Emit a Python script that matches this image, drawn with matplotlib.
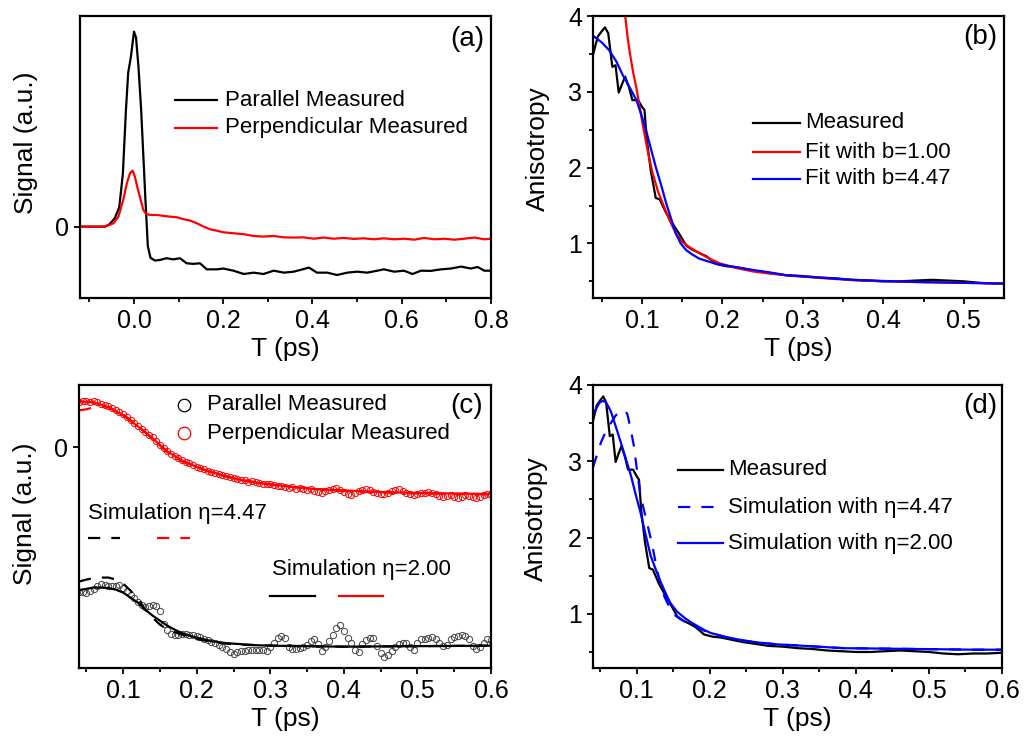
import numpy as np
import matplotlib
matplotlib.use("Agg")
import matplotlib.pyplot as plt
from matplotlib.lines import Line2D

plt.rcParams["font.family"] = ["Liberation Sans", "DejaVu Sans"]
plt.rcParams["axes.linewidth"] = 1.6

W, H = 1034, 743

# ---- (a) raw signals, normalised to parallel peak ----
t_par_a = [-0.121, -0.09, -0.065, -0.055, -0.043, -0.033, -0.025, -0.018, -0.013, -0.007, 0.0,
           0.0045, 0.01, 0.016, 0.021, 0.026, 0.031, 0.037, 0.047, 0.058, 0.073, 0.088, 0.103,
           0.118, 0.133, 0.148, 0.163, 0.186, 0.2, 0.223, 0.246, 0.268, 0.29, 0.313, 0.336,
           0.358, 0.373, 0.392, 0.41, 0.433, 0.455, 0.478, 0.5, 0.523, 0.545, 0.56, 0.583,
           0.605, 0.624, 0.643, 0.665, 0.688, 0.71, 0.733, 0.755, 0.77, 0.785, 0.8]
par_a = [0.0, 0.0, 0.0, 0.012, 0.043, 0.10, 0.27, 0.60, 0.79, 0.87, 1.0,
         0.97, 0.82, 0.60, 0.36, 0.12, -0.10, -0.16, -0.174, -0.171, -0.162, -0.168, -0.162,
         -0.188, -0.191, -0.188, -0.219, -0.219, -0.215, -0.226, -0.243, -0.236, -0.243, -0.226, -0.236,
         -0.231, -0.222, -0.21, -0.236, -0.236, -0.248, -0.236, -0.231, -0.236, -0.226, -0.219, -0.231,
         -0.226, -0.243, -0.226, -0.227, -0.219, -0.215, -0.205, -0.215, -0.207, -0.226, -0.226]

t_perp_a = [-0.121, -0.065, -0.046, -0.035, -0.024, -0.016, -0.009, -0.003, 0.002, 0.008, 0.015,
            0.021, 0.027, 0.036, 0.051, 0.066, 0.081, 0.096, 0.111, 0.126, 0.141, 0.156, 0.171,
            0.186, 0.2, 0.223, 0.246, 0.268, 0.29, 0.313, 0.336, 0.358, 0.38, 0.403, 0.425,
            0.448, 0.47, 0.493, 0.515, 0.538, 0.56, 0.583, 0.605, 0.628, 0.65, 0.673, 0.695,
            0.718, 0.74, 0.763, 0.785, 0.8]
perp_a = [0.0, 0.0, 0.017, 0.051, 0.137, 0.222, 0.274, 0.287, 0.256, 0.197, 0.137,
          0.085, 0.065, 0.06, 0.06, 0.055, 0.051, 0.048, 0.038, 0.031, 0.017, 0.0, -0.014,
          -0.021, -0.029, -0.034, -0.039, -0.048, -0.051, -0.048, -0.055, -0.056, -0.055, -0.062, -0.056,
          -0.062, -0.058, -0.063, -0.06, -0.065, -0.06, -0.065, -0.062, -0.067, -0.058, -0.065, -0.062,
          -0.067, -0.062, -0.056, -0.065, -0.062]

# ---- measured anisotropy (b, d) ----
t_aniso = [0.039, 0.045, 0.050, 0.054, 0.058, 0.063, 0.067, 0.071, 0.075, 0.079, 0.084, 0.088,
           0.095, 0.100, 0.103, 0.106, 0.111, 0.117, 0.122, 0.130, 0.138, 0.146, 0.155, 0.162,
           0.170, 0.180, 0.192, 0.204, 0.215, 0.23, 0.245, 0.26, 0.28, 0.30, 0.32, 0.34, 0.36,
           0.38, 0.40, 0.42, 0.44, 0.46, 0.48, 0.50, 0.52, 0.54, 0.56, 0.58, 0.60]
aniso = [3.49, 3.73, 3.80, 3.85, 3.77, 3.33, 3.35, 2.99, 3.10, 3.20, 3.05, 2.89,
         2.89, 2.80, 2.76, 2.36, 1.95, 1.60, 1.58, 1.40, 1.26, 1.13, 0.97, 0.92,
         0.88, 0.83, 0.73, 0.70, 0.69, 0.66, 0.63, 0.61, 0.58, 0.57, 0.55, 0.54, 0.52,
         0.51, 0.50, 0.50, 0.51, 0.52, 0.51, 0.50, 0.48, 0.47, 0.48, 0.48, 0.49]

t_fit_b1 = [0.079, 0.082, 0.085, 0.089, 0.093, 0.097, 0.101, 0.107, 0.113, 0.12, 0.126, 0.134,
            0.142, 0.15, 0.159, 0.17, 0.18, 0.196, 0.215, 0.238, 0.26, 0.279, 0.32, 0.362,
            0.40, 0.445, 0.50, 0.55]
fit_b1 = [4.0, 3.72, 3.5, 3.25, 3.05, 2.8, 2.56, 2.22, 1.93, 1.68, 1.52, 1.31,
          1.13, 1.02, 0.95, 0.88, 0.82, 0.74, 0.68, 0.63, 0.60, 0.58, 0.545, 0.515,
          0.50, 0.49, 0.48, 0.47]

t_fit_b447 = [0.039, 0.05, 0.059, 0.068, 0.076, 0.085, 0.093, 0.099, 0.105, 0.111, 0.117, 0.124,
              0.13, 0.136, 0.142, 0.148, 0.155, 0.163, 0.171, 0.18, 0.192, 0.215, 0.238, 0.26,
              0.279, 0.32, 0.362, 0.40, 0.445, 0.50, 0.55]
fit_b447 = [3.74, 3.65, 3.55, 3.40, 3.22, 3.05, 2.89, 2.70, 2.49, 2.25, 2.01, 1.76,
            1.53, 1.33, 1.13, 1.00, 0.91, 0.85, 0.80, 0.77, 0.73, 0.69, 0.65, 0.615,
            0.58, 0.55, 0.52, 0.505, 0.49, 0.48, 0.47]

# ---- (c) signals with simulations ----
perp_c = [0.45, 0.46, 0.46, 0.455, 0.46, 0.45, 0.43, 0.42, 0.41, 0.39, 0.37, 0.355,
          0.33, 0.30, 0.27, 0.24, 0.21, 0.18, 0.15, 0.12, 0.10, 0.06, 0.02, -0.01,
          -0.04, -0.07, -0.09, -0.11, -0.13, -0.15, -0.16, -0.18, -0.20, -0.21, -0.22, -0.235,
          -0.25, -0.26, -0.27, -0.28, -0.29, -0.30, -0.31, -0.315, -0.33, -0.33, -0.345, -0.34,
          -0.35, -0.36, -0.365, -0.37, -0.37, -0.38, -0.39, -0.39, -0.40, -0.41, -0.40, -0.42,
          -0.41, -0.42, -0.43, -0.42, -0.44, -0.45, -0.46, -0.44, -0.43, -0.42, -0.41, -0.43,
          -0.45, -0.47, -0.48, -0.46, -0.44, -0.43, -0.42, -0.43, -0.45, -0.46, -0.47, -0.47,
          -0.46, -0.44, -0.43, -0.42, -0.44, -0.46, -0.47, -0.48, -0.47, -0.46, -0.46, -0.45,
          -0.46, -0.47, -0.49, -0.50, -0.49, -0.48, -0.50, -0.51, -0.50, -0.48, -0.49, -0.50,
          -0.51, -0.50, -0.48, -0.47, -0.47]
par_c = [-1.44, -1.445, -1.45, -1.43, -1.41, -1.38, -1.36, -1.37, -1.385, -1.385, -1.38, -1.375,
         -1.40, -1.43, -1.47, -1.50, -1.54, -1.57, -1.59, -1.58, -1.575, -1.585, -1.63, -1.76,
         -1.82, -1.86, -1.875, -1.87, -1.865, -1.86, -1.87, -1.875, -1.88, -1.895, -1.91, -1.925,
         -1.94, -1.95, -1.97, -1.99, -2.01, -2.04, -2.06, -2.045, -2.035, -2.03, -2.025, -2.02,
         -2.02, -2.02, -2.025, -2.03, -1.99, -1.95, -1.90, -1.885, -1.90, -1.99, -2.01, -2.01,
         -2.005, -1.99, -1.975, -1.93, -1.91, -1.96, -2.03, -1.99, -1.93, -1.87, -1.80, -1.77,
         -1.83, -1.90, -1.95, -2.02, -2.04, -1.96, -1.92, -1.905, -1.90, -1.98, -2.05, -2.09,
         -2.07, -2.03, -1.99, -1.96, -1.955, -1.955, -1.99, -2.02, -1.95, -1.915, -1.91, -1.90,
         -1.895, -1.91, -1.95, -1.985, -1.97, -1.91, -1.895, -1.88, -1.875, -1.88, -1.91, -1.98,
         -2.01, -1.99, -1.95, -1.91, -1.925]
t_perp_c = np.linspace(0.04, 0.60, len(perp_c))
t_par_c = np.linspace(0.04, 0.60, len(par_c))

t_sim_perp200 = [0.04, 0.06, 0.08, 0.10, 0.12, 0.14, 0.16, 0.18, 0.20, 0.22, 0.24, 0.26, 0.28,
                 0.30, 0.33, 0.36, 0.40, 0.45, 0.50, 0.55, 0.60]
sim_perp200 = [0.46, 0.45, 0.40, 0.32, 0.21, 0.09, -0.04, -0.13, -0.195, -0.245, -0.29, -0.325,
               -0.35, -0.37, -0.395, -0.415, -0.43, -0.445, -0.455, -0.46, -0.465]
t_sim_perp447 = [0.04, 0.05, 0.06, 0.07, 0.08, 0.10, 0.12, 0.14, 0.16, 0.18, 0.20, 0.22, 0.24,
                 0.26, 0.28, 0.30, 0.33, 0.36, 0.40, 0.45, 0.50, 0.55, 0.60]
sim_perp447 = [0.37, 0.38, 0.40, 0.41, 0.405, 0.33, 0.215, 0.085, -0.05, -0.14, -0.20, -0.25,
               -0.29, -0.325, -0.35, -0.37, -0.395, -0.415, -0.435, -0.45, -0.46, -0.465, -0.47]
t_sim_par200 = [0.04, 0.06, 0.07, 0.08, 0.09, 0.10, 0.11, 0.12, 0.13, 0.14, 0.15, 0.16, 0.17,
                0.18, 0.19, 0.20, 0.22, 0.24, 0.26, 0.28, 0.30, 0.35, 0.40, 0.50, 0.60]
sim_par200 = [-1.425, -1.40, -1.40, -1.405, -1.42, -1.45, -1.50, -1.55, -1.62, -1.68, -1.73, -1.78,
              -1.82, -1.855, -1.88, -1.90, -1.935, -1.955, -1.965, -1.975, -1.98, -1.985, -1.99,
              -1.985, -1.98]
t_sim_par447 = [0.04, 0.05, 0.06, 0.07, 0.08, 0.09, 0.10, 0.11, 0.12, 0.13, 0.14, 0.15, 0.16,
                0.17, 0.18, 0.19, 0.20, 0.22, 0.24, 0.26, 0.28, 0.30, 0.35, 0.40, 0.50, 0.60]
sim_par447 = [-1.34, -1.32, -1.305, -1.30, -1.30, -1.32, -1.36, -1.43, -1.51, -1.62, -1.70, -1.77,
              -1.815, -1.845, -1.87, -1.895, -1.915, -1.94, -1.96, -1.97, -1.975, -1.98, -1.985,
              -1.99, -1.985, -1.98]

# ---- (d) anisotropy simulations ----
t_sim_a200 = [0.04, 0.045, 0.049, 0.053, 0.057, 0.061, 0.065, 0.071, 0.078, 0.085, 0.092, 0.098,
              0.105, 0.112, 0.119, 0.126, 0.133, 0.14, 0.146, 0.155, 0.165, 0.174, 0.183, 0.192,
              0.201, 0.22, 0.246, 0.27, 0.292, 0.33, 0.383, 0.43, 0.474, 0.52, 0.56, 0.6]
sim_a200 = [3.60, 3.70, 3.77, 3.79, 3.78, 3.72, 3.64, 3.46, 3.25, 3.03, 2.81, 2.58,
            2.33, 2.04, 1.76, 1.58, 1.41, 1.26, 1.14, 1.03, 0.95, 0.89, 0.84, 0.79,
            0.75, 0.70, 0.65, 0.62, 0.60, 0.58, 0.55, 0.545, 0.54, 0.535, 0.53, 0.53]
t_sim_a447 = [0.04, 0.046, 0.051, 0.058, 0.065, 0.071, 0.078, 0.083, 0.087, 0.091, 0.096, 0.1,
              0.105, 0.11, 0.115, 0.12, 0.124, 0.128, 0.133, 0.138, 0.142, 0.147, 0.151, 0.158,
              0.165, 0.174, 0.183, 0.192, 0.201, 0.22, 0.246, 0.27, 0.292, 0.33, 0.383, 0.43,
              0.474, 0.52, 0.56, 0.6]
sim_a447 = [2.92, 3.10, 3.25, 3.40, 3.51, 3.60, 3.66, 3.67, 3.62, 3.45, 3.20, 2.90,
            2.55, 2.35, 2.15, 1.95, 1.76, 1.56, 1.36, 1.22, 1.14, 1.05, 0.99, 0.94,
            0.90, 0.86, 0.82, 0.78, 0.75, 0.70, 0.65, 0.62, 0.60, 0.58, 0.55, 0.545,
            0.54, 0.535, 0.53, 0.53]

RED, BLUE, BLK = "#ff0000", "#0000ff", "black"
LW = 1.6
DASH = (5.5, 5)
FS_TICK, FS_LAB, FS_LEG, FS_PANEL = 18, 19, 16, 20


def fx(x):
    return x / W


def fy(y):
    return 1 - y / H


def axes_px(l, r, t, b):
    return fig.add_axes([fx(l), fy(b), (r - l) / W, (b - t) / H])


def style(ax):
    ax.tick_params(which="both", direction="out", labelsize=FS_TICK, width=1.3, pad=4)
    ax.tick_params(which="major", length=4)
    ax.tick_params(which="minor", length=3)
    ax.set_xlabel("T (ps)", fontsize=FS_LAB, labelpad=3)


def key_line(x0, x1, y, **kw):
    fig.add_artist(Line2D([fx(x0), fx(x1)], [fy(y), fy(y)], transform=fig.transFigure, **kw))


def key_text(x, y, s):
    fig.text(fx(x), fy(y), s, fontsize=FS_LEG, ha="left", va="center")


fig = plt.figure(figsize=(W / 100, H / 100), dpi=100)

# (a)
ax = axes_px(80, 491, 16, 298)
ax.plot(t_par_a, par_a, color=BLK, lw=LW)
ax.plot(t_perp_a, perp_a, color=RED, lw=LW)
ax.set_xlim(-0.121, 0.8)
ax.set_ylim(-0.366, 1.08)
ax.set_xticks([0.0, 0.2, 0.4, 0.6, 0.8])
ax.set_xticks(np.arange(-0.1, 0.8, 0.2), minor=True)
ax.set_yticks([0])
ax.set_yticklabels(["0"])
style(ax)
ax.set_ylabel("Signal (a.u.)", fontsize=FS_LAB)
ax.yaxis.set_label_coords(-0.102, 0.55)
key_line(175, 217, 100, color=BLK, lw=LW)
key_text(225, 100, "Parallel Measured")
key_line(175, 217, 128, color=RED, lw=LW)
key_text(225, 128, "Perpendicular Measured")
fig.text(fx(467), fy(39), "(a)", fontsize=FS_PANEL, ha="center", va="center")

# (b)
ax = axes_px(593, 1004, 16, 298)
ax.plot(t_aniso, aniso, color=BLK, lw=LW)
ax.plot(t_fit_b1, fit_b1, color=RED, lw=LW)
ax.plot(t_fit_b447, fit_b447, color=BLUE, lw=LW)
ax.set_xlim(0.039, 0.55)
ax.set_ylim(0.28, 4.0)
ax.set_xticks([0.1, 0.2, 0.3, 0.4, 0.5])
ax.set_xticks(np.arange(0.05, 0.55, 0.1), minor=True)
ax.set_yticks([1, 2, 3, 4])
ax.set_yticks([0.5, 1.5, 2.5, 3.5], minor=True)
style(ax)
ax.set_ylabel("Anisotropy", fontsize=FS_LAB)
ax.yaxis.set_label_coords(-0.105, 0.528)
key_line(753, 800, 123, color=BLK, lw=LW)
key_text(805, 123, "Measured")
key_line(753, 800, 152, color=RED, lw=LW)
key_text(805, 152, "Fit with b=1.00")
key_line(753, 800, 179, color=BLUE, lw=LW)
key_text(805, 179, "Fit with b=4.47")
fig.text(fx(980), fy(37), "(b)", fontsize=FS_PANEL, ha="center", va="center")

# (c)
ax = axes_px(79, 491, 385, 668)
ax.plot(t_par_c, par_c, ls="none", marker="o", ms=4.5, mfc="none", mec="#444444", mew=0.7)
ax.plot(t_perp_c, perp_c, ls="none", marker="o", ms=4.5, mfc="none", mec=RED, mew=0.7)
ax.plot(t_sim_par447, sim_par447, color=BLK, lw=LW, dashes=DASH)
ax.plot(t_sim_perp447, sim_perp447, color=RED, lw=LW, dashes=DASH)
ax.plot(t_sim_par200, sim_par200, color=BLK, lw=LW)
ax.plot(t_sim_perp200, sim_perp200, color=RED, lw=LW)
ax.set_xlim(0.04, 0.6)
ax.set_ylim(-2.203, 0.623)
ax.set_xticks([0.1, 0.2, 0.3, 0.4, 0.5, 0.6])
ax.set_xticks(np.arange(0.05, 0.6, 0.1), minor=True)
ax.set_yticks([0])
ax.set_yticklabels(["0"])
style(ax)
ax.set_ylabel("Signal (a.u.)", fontsize=FS_LAB)
ax.yaxis.set_label_coords(-0.102, 0.544)
key_line(184, 186, 405, ls="none", marker="o", ms=9, mfc="none", mec=BLK, mew=0.9, markevery=[0])
key_text(207, 405, "Parallel Measured")
key_line(184, 186, 433, ls="none", marker="o", ms=9, mfc="none", mec=RED, mew=0.9, markevery=[0])
key_text(207, 433, "Perpendicular Measured")
key_text(88, 513, "Simulation η=4.47")
key_line(88, 120, 538, color=BLK, lw=LW, dashes=DASH)
key_line(157, 190, 538, color=RED, lw=LW, dashes=DASH)
key_text(272, 570, "Simulation η=2.00")
key_line(270, 315, 596, color=BLK, lw=LW)
key_line(339, 383, 596, color=RED, lw=LW)
fig.text(fx(467), fy(406), "(c)", fontsize=FS_PANEL, ha="center", va="center")

# (d)
ax = axes_px(593, 1002, 385, 668)
ax.plot(t_aniso, aniso, color=BLK, lw=LW)
ax.plot(t_sim_a447, sim_a447, color=BLUE, lw=LW, dashes=DASH)
ax.plot(t_sim_a200, sim_a200, color=BLUE, lw=LW)
ax.set_xlim(0.04, 0.6)
ax.set_ylim(0.29, 4.0)
ax.set_xticks([0.1, 0.2, 0.3, 0.4, 0.5, 0.6])
ax.set_xticks(np.arange(0.05, 0.6, 0.1), minor=True)
ax.set_yticks([1, 2, 3, 4])
ax.set_yticks([0.5, 1.5, 2.5, 3.5], minor=True)
style(ax)
ax.set_ylabel("Anisotropy", fontsize=FS_LAB)
ax.yaxis.set_label_coords(-0.11, 0.527)
key_line(678, 723, 470, color=BLK, lw=LW)
key_text(728, 470, "Measured")
key_line(678, 723, 507, color=BLUE, lw=LW, dashes=DASH)
key_text(728, 507, "Simulation with η=4.47")
key_line(678, 723, 543, color=BLUE, lw=LW)
key_text(728, 543, "Simulation with η=2.00")
fig.text(fx(980), fy(406), "(d)", fontsize=FS_PANEL, ha="center", va="center")

fig.savefig("out.png", dpi=100)
